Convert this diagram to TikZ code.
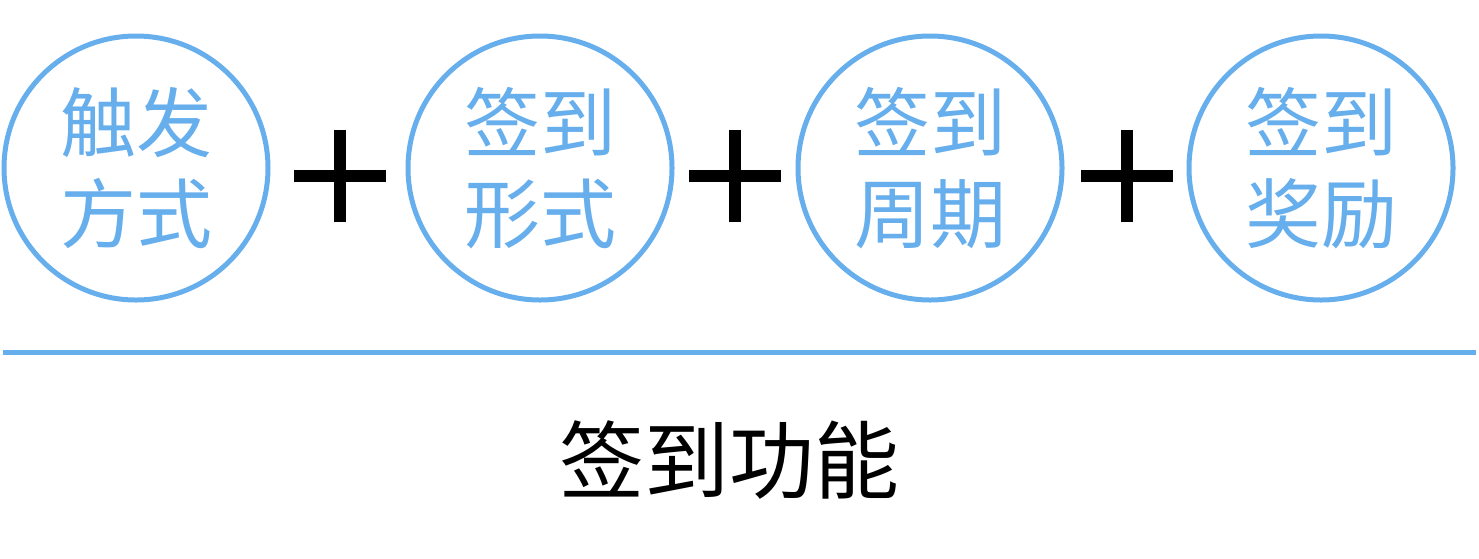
\documentclass[tikz,border=0pt]{standalone}
\usepackage{fontspec}
\newfontfamily\cjk{Noto Sans CJK SC}
\definecolor{cblue}{HTML}{66AEEC}
\begin{document}
\begin{tikzpicture}[x=1pt,y=-1pt,
  ring/.style={circle,draw=cblue,line width=5pt,minimum size=264pt,inner sep=0pt,
    text=cblue,font=\cjk\fontsize{76}{91}\selectfont,align=center},
  plusbar/.style={line width=12pt,black}]
\useasboundingbox (0,0) rectangle (1479,558);
\node[ring] (c1) at (136,168) {触发\\方式};
\node[ring] (c2) at (540,168) {签到\\形式};
\node[ring] (c3) at (930,168) {签到\\周期};
\node[ring] (c4) at (1321,168) {签到\\奖励};
\foreach \n/\x in {p1/340,p2/735,p3/1127}{
  \coordinate (\n) at (\x,176);
  \draw[plusbar] ([xshift=-46pt]\n) -- ([xshift=46pt]\n);
  \draw[plusbar] ([yshift=-46pt]\n) -- ([yshift=46pt]\n);
}
\coordinate (l1) at (3,352);
\coordinate (l2) at (1476,352);
\draw[cblue,line width=5pt] (l1) -- (l2);
\node[font=\cjk\fontsize{85}{90}\selectfont] (t) at (729,460) {签到功能};
\end{tikzpicture}
\end{document}
